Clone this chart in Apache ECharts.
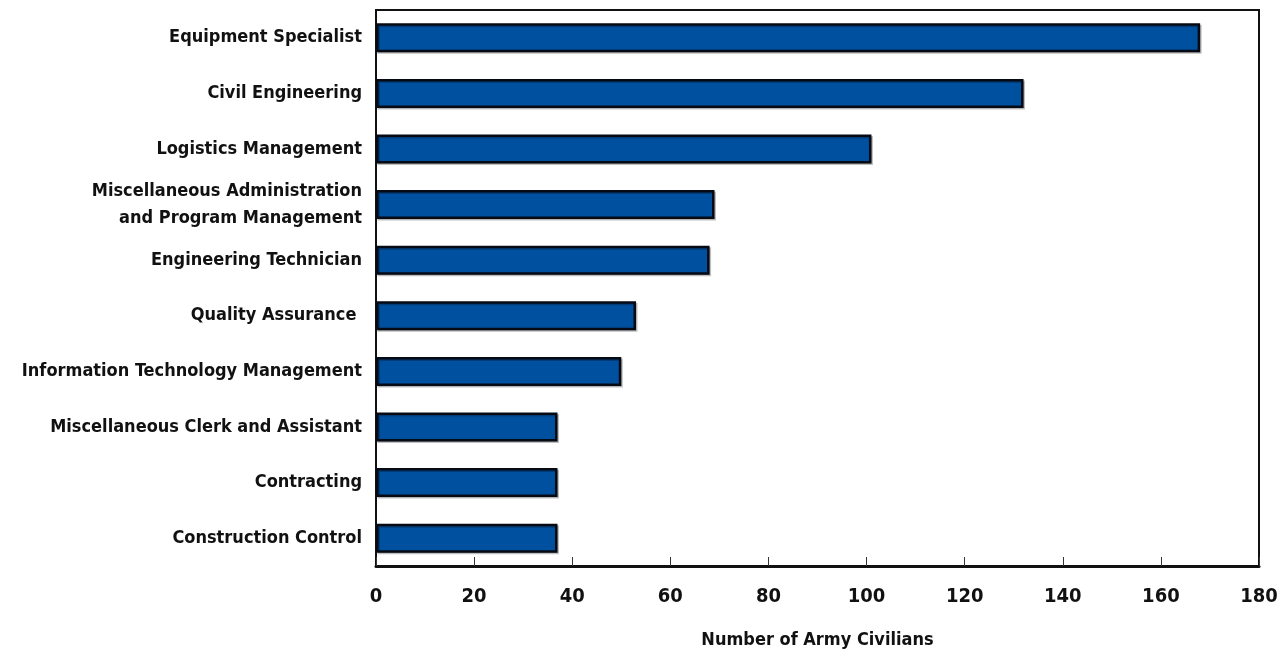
<!DOCTYPE html>
<html>
<head>
<meta charset="utf-8">
<script src="https://cdn.jsdelivr.net/npm/echarts@6/dist/echarts.min.js"></script>
<style>
html,body{margin:0;padding:0;background:#fff;}
#chart{width:1285px;height:651px;}
</style>
</head>
<body>
<div id="chart"></div>
<script>
const categories = [
  "Equipment Specialist",
  "Civil Engineering",
  "Logistics Management",
  "Miscellaneous Administration\nand Program Management",
  "Engineering Technician",
  "Quality Assurance ",
  "Information Technology Management",
  "Miscellaneous Clerk and Assistant",
  "Contracting",
  "Construction Control"
];
const civilians = [168, 132, 101, 69, 68, 53, 50, 37, 37, 37];
const xTicks = [0, 20, 40, 60, 80, 100, 120, 140, 160, 180];
const xTitle = "Number of Army Civilians";

const chart = echarts.init(document.getElementById('chart'));
chart.setOption({
  animation: false,
  backgroundColor: '#fff',
  grid: {
    left: 376, right: 26, top: 10, bottom: 85,
    outerBoundsMode: 'none',
    containLabel: false,
    show: true, borderColor: '#111', borderWidth: 2, backgroundColor: 'transparent'
  },
  xAxis: {
    type: 'value',
    min: xTicks[0], max: xTicks[xTicks.length - 1], interval: 20,
    name: xTitle,
    nameLocation: 'middle',
    nameGap: 65,
    nameTextStyle: { fontFamily: 'DejaVu Sans Condensed', fontWeight: 'bold', fontSize: 18, color: '#111' },
    axisLine: { show: true, lineStyle: { color: '#111', width: 3 } },
    axisTick: { show: true, inside: true, length: 9, lineStyle: { color: '#333', width: 1 } },
    axisLabel: { margin: 21, fontFamily: 'DejaVu Sans Condensed', fontWeight: 'bold', fontSize: 20, color: '#111' },
    splitLine: { show: false }
  },
  yAxis: {
    type: 'category',
    data: categories,
    inverse: true,
    axisLine: { show: true, lineStyle: { color: '#111', width: 2 } },
    axisTick: { show: false },
    axisLabel: { margin: 14, fontFamily: 'DejaVu Sans Condensed', fontWeight: 'bold', fontSize: 18, color: '#111', lineHeight: 27, align: 'right' }
  },
  series: [{
    type: 'bar',
    data: civilians,
    barWidth: 29,
    itemStyle: {
      color: '#0050a0',
      borderColor: '#050a14',
      borderWidth: 2.5,
      shadowColor: 'rgba(0,0,0,0.25)',
      shadowOffsetX: 1.5,
      shadowOffsetY: 1.5,
      shadowBlur: 0
    }
  }]
});
</script>
</body>
</html>
